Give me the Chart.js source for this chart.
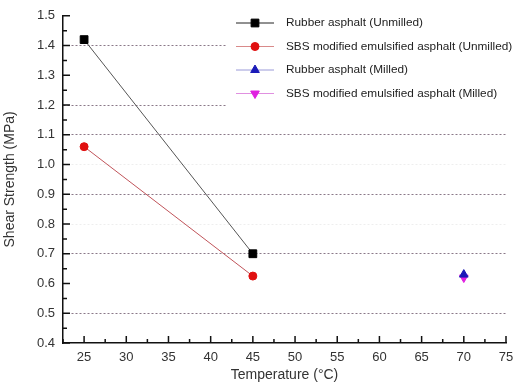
<!DOCTYPE html>
<html>
<head>
<meta charset="utf-8">
<script src="https://cdn.jsdelivr.net/npm/chart.js@4/dist/chart.umd.min.js"></script>
<style>
  html, body { margin: 0; padding: 0; background: #fff; overflow: hidden; }
  #wrap { width: 513px; height: 385px; }
</style>
</head>
<body>
<div id="wrap"><canvas id="chart"></canvas></div>
<script>
// Data
const unmilledTemps = [25, 45];
const rubberUnmilled = [1.42, 0.70];
const sbsUnmilled = [1.06, 0.625];
const milledTemps = [70];
const rubberMilled = [0.63];
const sbsMilled = [0.62];

const seriesNames = [
    'Rubber asphalt (Unmilled)',
    'SBS modified emulsified asphalt (Unmilled)',
    'Rubber asphalt (Milled)',
    'SBS modified emulsified asphalt (Milled)'
];

// Axis ticks
const xTicks = [25, 30, 35, 40, 45, 50, 55, 60, 65, 70, 75];
const yTicks = [0.4, 0.5, 0.6, 0.7, 0.8, 0.9, 1.0, 1.1, 1.2, 1.3, 1.4, 1.5];
const dottedGrid = [0.5, 0.7, 0.9, 1.1, 1.2, 1.4];
const faintGrid = [0.8, 1.0];

const toPoints = (xs, ys) => xs.map((x, i) => ({ x: x, y: ys[i] }));
const has = (list, v) => list.some(g => Math.abs(g - v) < 1e-6);

// Inward major/minor ticks
const axisTicks = {
    id: 'axisTicks',
    afterDatasetsDraw(chart) {
        const { ctx, chartArea: a, scales: { x, y } } = chart;
        ctx.save();
        ctx.strokeStyle = '#111';
        ctx.lineWidth = 1.5;
        ctx.beginPath();
        xTicks.forEach(v => {
            const px = x.getPixelForValue(v);
            ctx.moveTo(px, a.bottom); ctx.lineTo(px, a.bottom - 7);
            const mx = x.getPixelForValue(v - 2.5);
            ctx.moveTo(mx, a.bottom); ctx.lineTo(mx, a.bottom - 4);
        });
        yTicks.forEach((v, i) => {
            const py = y.getPixelForValue(v);
            ctx.moveTo(a.left, py); ctx.lineTo(a.left + 7, py);
            if (i > 0) {
                const my = y.getPixelForValue(v - 0.05);
                ctx.moveTo(a.left, my); ctx.lineTo(a.left + 4, my);
            }
        });
        ctx.stroke();
        ctx.restore();
    }
};

// Legend inside the plot, with line through marker
const boxLegend = {
    id: 'boxLegend',
    afterDraw(chart) {
        const { ctx } = chart;
        ctx.save();
        ctx.fillStyle = '#fff';
        ctx.fillRect(226, 6, 287, 106);
        ctx.font = '11.8px "Liberation Sans", Arial, sans-serif';
        ctx.textBaseline = 'middle';
        chart.data.datasets.forEach((ds, i) => {
            const rowY = 23 + i * 23.5;
            ctx.strokeStyle = ds.legendLine;
            ctx.lineWidth = 1;
            ctx.beginPath();
            ctx.moveTo(236, rowY); ctx.lineTo(274, rowY);
            ctx.stroke();
            ctx.fillStyle = ds.pointBackgroundColor;
            ctx.strokeStyle = ds.pointBorderColor;
            Chart.helpers.drawPoint(ctx, {
                pointStyle: ds.pointStyle,
                rotation: ds.pointRotation || 0,
                radius: ds.pointRadius,
                borderWidth: 1
            }, 255, rowY);
            ctx.fillStyle = '#222';
            ctx.fillText(ds.label, 286, rowY);
        });
        ctx.restore();
    }
};

new Chart(document.getElementById('chart'), {
    type: 'scatter',
    data: {
        datasets: [
            {
                label: seriesNames[0],
                data: toPoints(unmilledTemps, rubberUnmilled),
                showLine: true,
                borderColor: '#555',
                borderWidth: 1,
                legendLine: '#222',
                pointStyle: 'rect',
                pointRadius: 5.5,
                pointBackgroundColor: '#000',
                pointBorderColor: '#000'
            },
            {
                label: seriesNames[1],
                data: toPoints(unmilledTemps, sbsUnmilled),
                showLine: true,
                borderColor: '#c0545a',
                borderWidth: 1,
                legendLine: '#d98a8a',
                pointStyle: 'circle',
                pointRadius: 4,
                pointBackgroundColor: '#e01010',
                pointBorderColor: '#e01010'
            },
            {
                label: seriesNames[2],
                data: toPoints(milledTemps, rubberMilled),
                showLine: false,
                borderColor: '#1010c0',
                legendLine: '#9a9ad8',
                pointStyle: 'triangle',
                pointRadius: 5,
                pointBackgroundColor: '#1a1ab8',
                pointBorderColor: '#1a1ab8'
            },
            {
                label: seriesNames[3],
                data: toPoints(milledTemps, sbsMilled),
                showLine: false,
                borderColor: '#e020e0',
                legendLine: '#e090e0',
                pointStyle: 'triangle',
                pointRotation: 180,
                pointRadius: 5,
                pointBackgroundColor: '#e020e0',
                pointBorderColor: '#e020e0'
            }
        ]
    },
    options: {
        responsive: true,
        maintainAspectRatio: false,
        animation: false,
        layout: { padding: { top: 15, right: 7, left: 0, bottom: 0 } },
        plugins: {
            legend: { display: false },
            tooltip: { enabled: false }
        },
        scales: {
            x: {
                type: 'linear',
                min: 22.5,
                max: 75,
                afterBuildTicks: s => { s.ticks = xTicks.map(v => ({ value: v })); },
                afterFit: s => { s.height = 42; s.paddingLeft = 0; s.paddingRight = 0; },
                grid: { display: false, drawTicks: false },
                border: { display: true, color: '#111', width: 1.5 },
                ticks: {
                    padding: 7,
                    color: '#333',
                    font: { family: '"Liberation Sans", Arial, sans-serif', size: 13 }
                },
                title: {
                    display: true,
                    text: 'Temperature (°C)',
                    color: '#333',
                    padding: { top: 0, bottom: 1 },
                    font: { family: '"Liberation Sans", Arial, sans-serif', size: 14 }
                }
            },
            y: {
                min: 0.4,
                max: 1.5,
                afterBuildTicks: s => { s.ticks = yTicks.map(v => ({ value: v })); },
                afterFit: s => { s.width = 63; },
                grid: {
                    drawTicks: false,
                    lineWidth: 1,
                    color: c => {
                        const v = c.tick ? c.tick.value : null;
                        if (v === null) return 'transparent';
                        if (has(dottedGrid, v)) return '#8a7888';
                        if (has(faintGrid, v)) return '#eeeeee';
                        return 'transparent';
                    }
                },
                border: { display: true, color: '#111', width: 1.5, dash: [2, 2] },
                ticks: {
                    padding: 8,
                    color: '#333',
                    font: { family: '"Liberation Sans", Arial, sans-serif', size: 13 },
                    callback: v => Number(v).toFixed(1)
                },
                title: {
                    display: true,
                    text: 'Shear Strength (MPa)',
                    color: '#333',
                    padding: { top: 2, bottom: 0 },
                    font: { family: '"Liberation Sans", Arial, sans-serif', size: 14 }
                }
            }
        }
    },
    plugins: [axisTicks, boxLegend]
});
</script>
</body>
</html>
